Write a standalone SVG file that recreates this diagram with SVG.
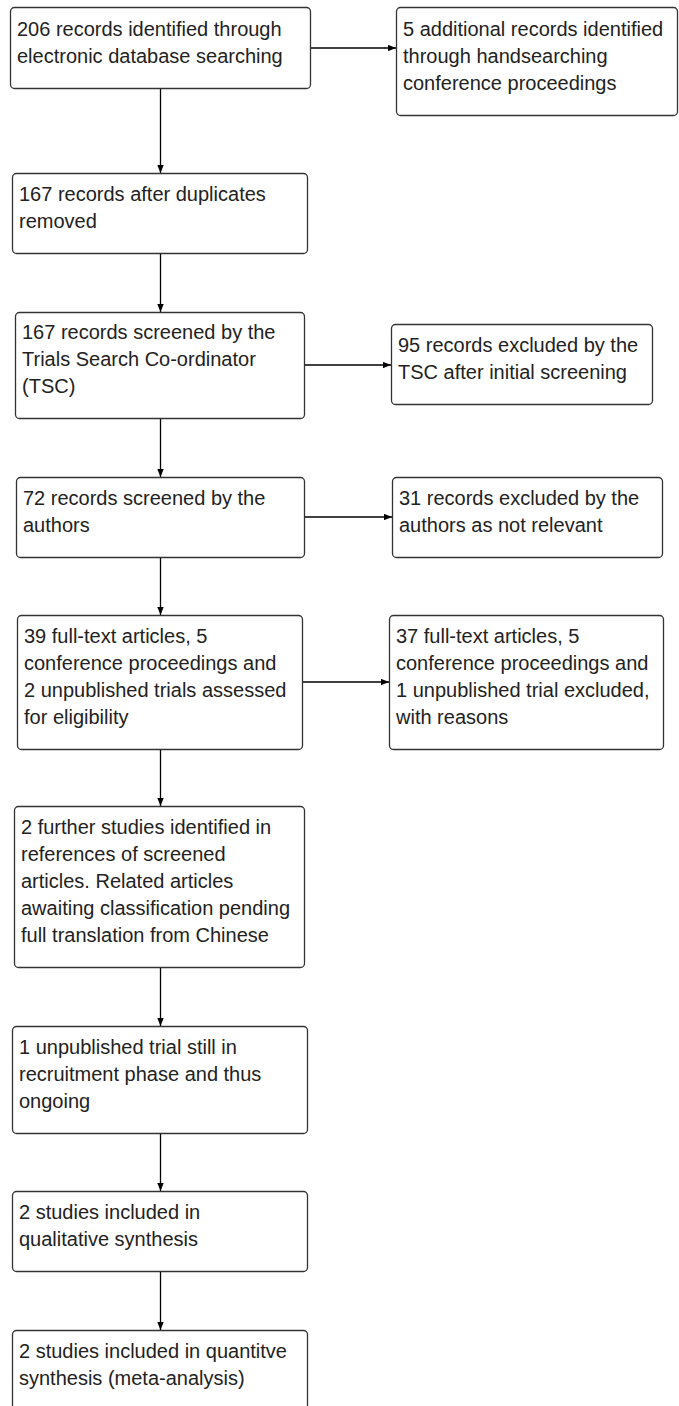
<svg xmlns="http://www.w3.org/2000/svg" width="679" height="1406" viewBox="0 0 679 1406">
<style>
.box{fill:#ffffff;stroke:#333333;stroke-width:1.3}
.t{font-family:"Liberation Sans",Arial,sans-serif;font-size:20px;fill:#222222}
.c{stroke:#000000;stroke-width:1.3;fill:none}
</style>
<defs>
<marker id="ah" viewBox="0 0 10 8" refX="10" refY="4" markerWidth="8" markerHeight="6.4" markerUnits="userSpaceOnUse" orient="auto">
<path d="M0,0 L10,4 L0,8 z" fill="#000000"/>
</marker>
</defs>
<rect width="679" height="1406" fill="#ffffff"/>
<g id="connectors">
<line class="c" x1="310" y1="48" x2="396" y2="48" marker-end="url(#ah)"/>
<line class="c" x1="304" y1="365" x2="391" y2="365" marker-end="url(#ah)"/>
<line class="c" x1="304" y1="517" x2="392" y2="517" marker-end="url(#ah)"/>
<line class="c" x1="302" y1="682" x2="389" y2="682" marker-end="url(#ah)"/>
<line class="c" x1="160.5" y1="88" x2="160.5" y2="173" marker-end="url(#ah)"/>
<line class="c" x1="160.5" y1="253" x2="160.5" y2="312" marker-end="url(#ah)"/>
<line class="c" x1="160.5" y1="418" x2="160.5" y2="477" marker-end="url(#ah)"/>
<line class="c" x1="160.5" y1="557" x2="160.5" y2="615" marker-end="url(#ah)"/>
<line class="c" x1="160.5" y1="749" x2="160.5" y2="806" marker-end="url(#ah)"/>
<line class="c" x1="160.5" y1="967" x2="160.5" y2="1026" marker-end="url(#ah)"/>
<line class="c" x1="160.5" y1="1133" x2="160.5" y2="1191" marker-end="url(#ah)"/>
<line class="c" x1="160.5" y1="1271" x2="160.5" y2="1330" marker-end="url(#ah)"/>
</g>
<g id="n1">
<rect class="box" x="10.5" y="7.5" width="300" height="81" rx="4"/>
<text class="t" x="17" y="36">206 records identified through</text>
<text class="t" x="17" y="63">electronic database searching</text>
</g>
<g id="n2">
<rect class="box" x="396.5" y="7.5" width="281" height="108" rx="4"/>
<text class="t" x="403" y="36">5 additional records identified</text>
<text class="t" x="403" y="63">through handsearching</text>
<text class="t" x="403" y="90">conference proceedings</text>
</g>
<g id="n3">
<rect class="box" x="12.5" y="173.5" width="295" height="80" rx="4"/>
<text class="t" x="19" y="201">167 records after duplicates</text>
<text class="t" x="19" y="228">removed</text>
</g>
<g id="n4">
<rect class="box" x="15.5" y="312.5" width="289" height="106" rx="4"/>
<text class="t" x="22" y="339">167 records screened by the</text>
<text class="t" x="22" y="366">Trials Search Co-ordinator</text>
<text class="t" x="22" y="393">(TSC)</text>
</g>
<g id="n5">
<rect class="box" x="391.5" y="324.5" width="261" height="80" rx="4"/>
<text class="t" x="398" y="352">95 records excluded by the</text>
<text class="t" x="398" y="379">TSC after initial screening</text>
</g>
<g id="n6">
<rect class="box" x="16.5" y="477.5" width="288" height="80" rx="4"/>
<text class="t" x="23" y="505">72 records screened by the</text>
<text class="t" x="23" y="532">authors</text>
</g>
<g id="n7">
<rect class="box" x="392.5" y="477.5" width="270" height="80" rx="4"/>
<text class="t" x="399" y="505">31 records excluded by the</text>
<text class="t" x="399" y="532">authors as not relevant</text>
</g>
<g id="n8">
<rect class="box" x="17.5" y="615.5" width="285" height="134" rx="4"/>
<text class="t" x="24" y="643">39 full-text articles, 5</text>
<text class="t" x="24" y="670">conference proceedings and</text>
<text class="t" x="24" y="697">2 unpublished trials assessed</text>
<text class="t" x="24" y="724">for eligibility</text>
</g>
<g id="n9">
<rect class="box" x="389.5" y="615.5" width="274" height="134" rx="4"/>
<text class="t" x="396" y="643">37 full-text articles, 5</text>
<text class="t" x="396" y="670">conference proceedings and</text>
<text class="t" x="396" y="697">1 unpublished trial excluded,</text>
<text class="t" x="396" y="724">with reasons</text>
</g>
<g id="n10">
<rect class="box" x="14.5" y="806.5" width="290" height="161" rx="4"/>
<text class="t" x="21" y="834">2 further studies identified in</text>
<text class="t" x="21" y="861">references of screened</text>
<text class="t" x="21" y="888">articles. Related articles</text>
<text class="t" x="21" y="915">awaiting classification pending</text>
<text class="t" x="21" y="942">full translation from Chinese</text>
</g>
<g id="n11">
<rect class="box" x="12.5" y="1026.5" width="295" height="107" rx="4"/>
<text class="t" x="19" y="1054">1 unpublished trial still in</text>
<text class="t" x="19" y="1081">recruitment phase and thus</text>
<text class="t" x="19" y="1108">ongoing</text>
</g>
<g id="n12">
<rect class="box" x="12.5" y="1191.5" width="295" height="80" rx="4"/>
<text class="t" x="19" y="1219">2 studies included in</text>
<text class="t" x="19" y="1246">qualitative synthesis</text>
</g>
<g id="n13">
<rect class="box" x="12.5" y="1330.5" width="295" height="81" rx="4"/>
<text class="t" x="19" y="1358">2 studies included in quantitve</text>
<text class="t" x="19" y="1385">synthesis (meta-analysis)</text>
</g>
</svg>
